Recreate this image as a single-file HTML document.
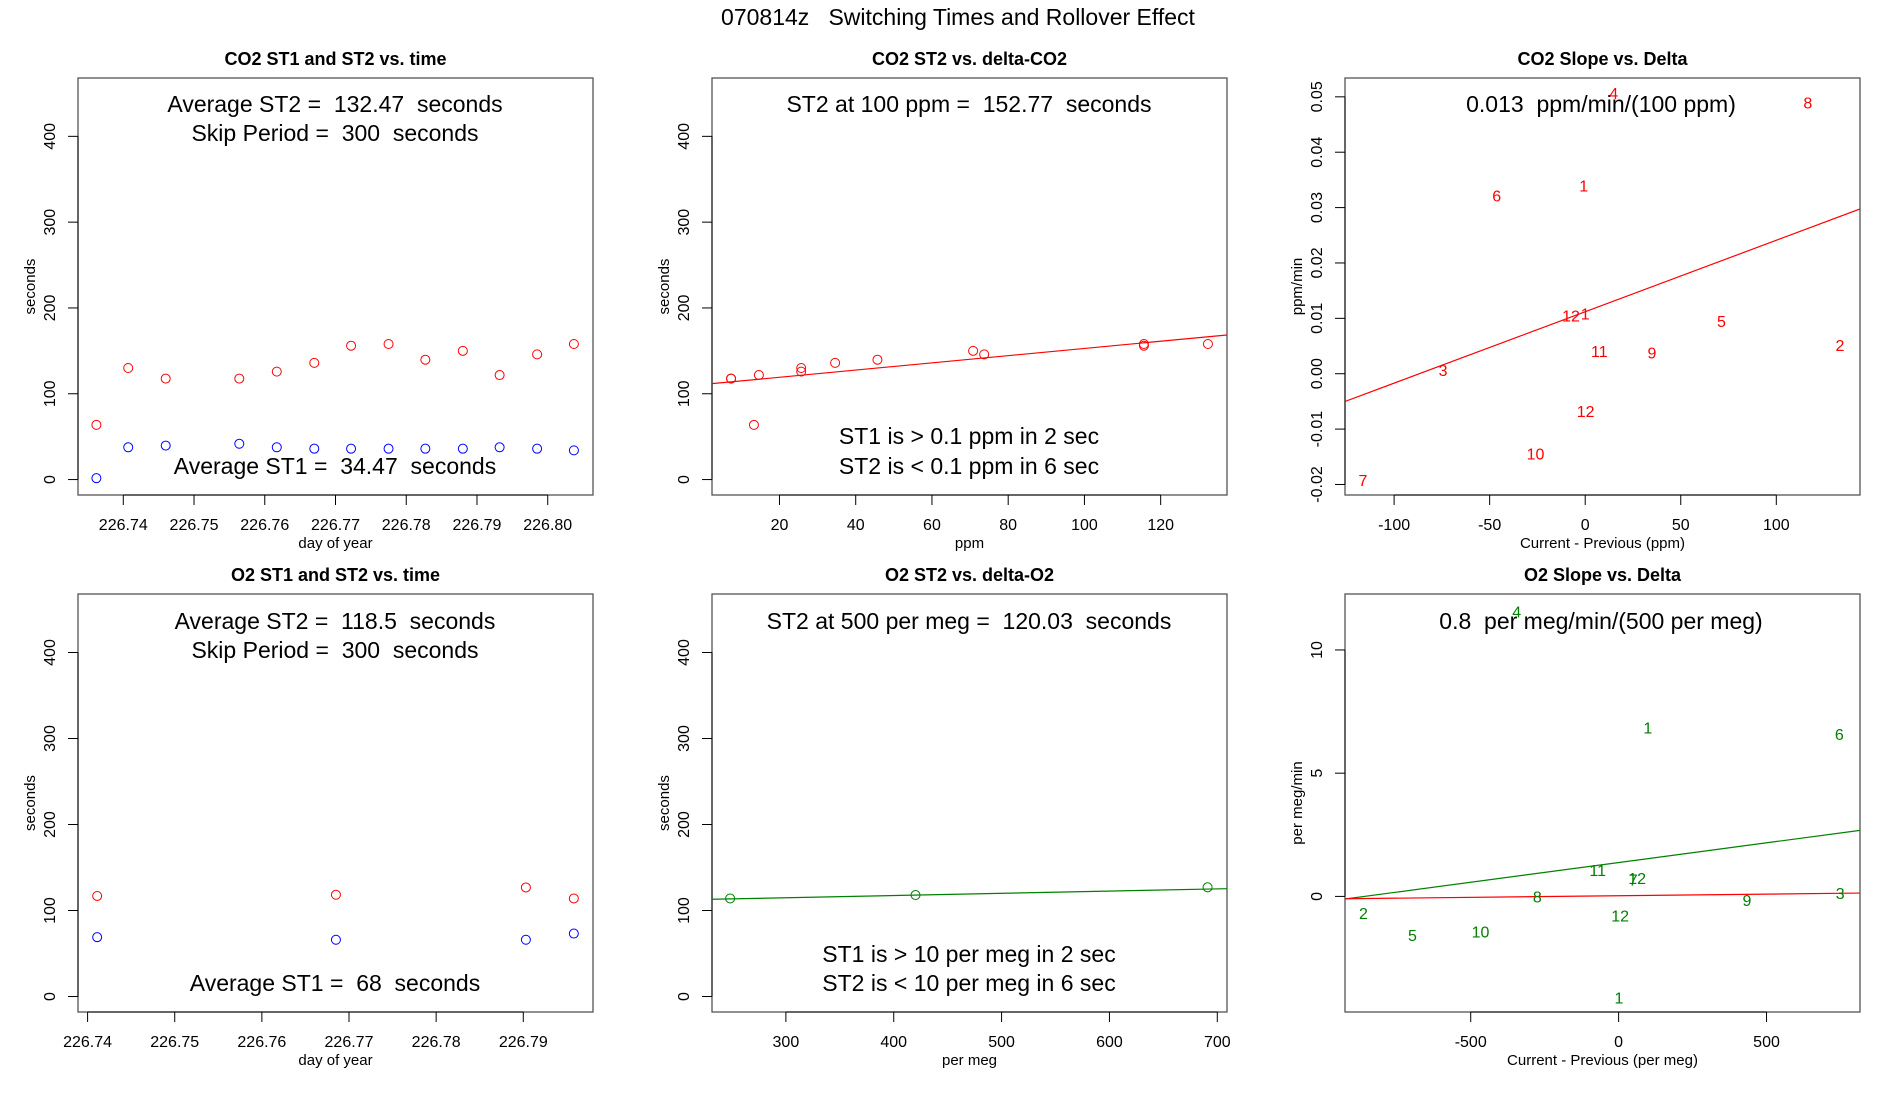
<!DOCTYPE html>
<html><head><meta charset="utf-8"><style>
body{margin:0;background:#fff;}
svg{display:block;font-family:"Liberation Sans",Arial,sans-serif;}
svg text{white-space:pre;}
</style></head><body>
<svg id="chart" width="1900" height="1100" viewBox="0 0 1900 1100" xmlns="http://www.w3.org/2000/svg" xml:space="preserve">
<text x="958" y="25" text-anchor="middle" font-size="23">070814z   Switching Times and Rollover Effect</text>
</svg>
<script>
// ---- data ----
const co2Days = [226.7362,226.7407,226.7460,226.7564,226.7617,226.7670,226.7722,226.7775,226.7827,226.7880,226.7932,226.7985,226.8037];
const co2ST2 = [63.7,130,117.7,117.7,125.8,136,156,158,139.7,150,121.8,145.9,158];
const co2ST1 = [1.6,37.6,39.6,41.7,37.6,36,36,36,36,36,37.6,36,34];
const co2Delta = [7.3,7.3,14.6,13.3,25.7,25.7,34.6,45.7,70.8,73.7,115.6,115.6,132.4];
const co2DeltaST2 = [117.7,117.7,121.8,63.7,130,125.8,136,139.7,150,145.9,158,156,158];
const co2FitLine = [110.8,0.42];
const co2SlopeLabels = ["1","2","3","4","5","6","7","8","9","10","11","12","12","1"];
const co2SlopeX = [-0.8,133.3,-74.4,14.9,71.3,-46.3,-116.3,116.5,34.9,-26,7.4,0.2,-7.4,0];
const co2SlopeY = [0.0340,0.0052,0.0007,0.0507,0.0095,0.0322,-0.0192,0.049,0.0038,-0.0144,0.0041,-0.0067,0.0105,0.0109];
const co2SlopeFit = [0.0112,0.000129];
const o2Days = [226.7411,226.7685,226.7903,226.7958];
const o2ST2 = [116.9,118.3,126.8,114];
const o2ST1 = [69,66,66,73.2];
const o2Delta = [248.3,420.2,691];
const o2DeltaST2 = [114,118,127];
const o2FitLine = [107.1,0.0258];
const o2SlopeLabels = ["1","2","3","4","5","6","7","8","9","10","11","12","12","1"];
const o2SlopeX = [98.8,-862.5,749,-344.5,-697,746,49.4,-275,434,-467,-70.8,62.7,5.3,1.3];
const o2SlopeY = [6.85,-0.68,0.14,11.57,-1.56,6.59,0.68,0.0,-0.14,-1.42,1.08,0.75,-0.78,-4.1];
const o2SlopeFitGreen = [1.374,0.0016];
const o2SlopeFitRed = [0.0275,0.000132];
const stTicks = [0,100,200,300,400];
const co2DayTicks = ["226.74","226.75","226.76","226.77","226.78","226.79","226.80"];
const o2DayTicks = ["226.74","226.75","226.76","226.77","226.78","226.79"];
const ppmTicks = [20,40,60,80,100,120];
const permegTicks = [300,400,500,600,700];
const co2SlopeXTicks = [-100,-50,0,50,100];
const co2SlopeYTicks = ["-0.02","-0.01","0.00","0.01","0.02","0.03","0.04","0.05"];
const o2SlopeXTicks = [-500,0,500];
const o2SlopeYTicks = [0,5,10];

const NS="http://www.w3.org/2000/svg";
const svg=document.getElementById('chart');
function mk(tag,attrs,parent,txt){const e=document.createElementNS(NS,tag);for(const k in attrs)e.setAttribute(k,attrs[k]);if(txt!==undefined)e.textContent=txt;(parent||svg).appendChild(e);return e;}

function panel(name,L,T,R,B,xlim,ylim,title,xlab,ylab,xticks,yticks){
  const g=mk('g',{});
  
  
  const sx=v=>L+(v-xlim[0])/(xlim[1]-xlim[0])*(R-L);
  const sy=v=>B-(v-ylim[0])/(ylim[1]-ylim[0])*(B-T);
  const box=mk('rect',{x:L,y:T,width:R-L,height:B-T,fill:'none',stroke:'#555','stroke-width':1.3},g);
  
  
  const t=mk('text',{x:(L+R)/2,y:T-13,'text-anchor':'middle','font-size':18,'font-weight':'bold'},g,title);
  
  
  const xa=mk('g',{},g);
  
  
  const xv=xticks.map(Number);
  mk('line',{x1:sx(xv[0]),x2:sx(xv[xv.length-1]),y1:B,y2:B,stroke:'#000'},xa);
  xticks.forEach(tk=>{const x=sx(Number(tk));mk('line',{x1:x,x2:x,y1:B,y2:B+10,stroke:'#000'},xa);
    const tl=mk('text',{x:x,y:B+35,'text-anchor':'middle','font-size':16},xa,String(tk));
    
    });
  const xl=mk('text',{x:(L+R)/2,y:B+53,'text-anchor':'middle','font-size':15},g,xlab);
  
  
  const ya=mk('g',{},g);
  
  
  const yv=yticks.map(Number);
  mk('line',{x1:L,x2:L,y1:sy(yv[0]),y2:sy(yv[yv.length-1]),stroke:'#000'},ya);
  yticks.forEach(tk=>{const y=sy(Number(tk));mk('line',{x1:L-10,x2:L,y1:y,y2:y,stroke:'#000'},ya);
    const tl=mk('text',{x:L-23,y:y,'text-anchor':'middle','font-size':16,transform:`rotate(-90 ${L-23} ${y})`},ya,String(tk));
    
    });
  const yl=mk('text',{x:L-43,y:(T+B)/2,'text-anchor':'middle','font-size':15,transform:`rotate(-90 ${L-43} ${(T+B)/2})`},g,ylab);
  
  
  const clip='c'+name;
  const cp=mk('clipPath',{id:clip},g);mk('rect',{x:L,y:T,width:R-L,height:B-T},cp);
  const plot=mk('g',{'clip-path':`url(#${clip})`},g);
  return {g,plot,sx,sy,L,R,T,B};
}
function circles(p,xs,ys,col,nm){xs.forEach((x,i)=>{const c=mk('circle',{cx:p.sx(x),cy:p.sy(ys[i]),r:4.5,fill:'none',stroke:col,'stroke-width':1},p.g);
  
  });}
function fit(p,coef,xlim,col,nm){const l=mk('line',{x1:p.sx(xlim[0]),y1:p.sy(coef[0]+coef[1]*xlim[0]),x2:p.sx(xlim[1]),y2:p.sy(coef[0]+coef[1]*xlim[1]),stroke:col,'stroke-width':1.2},p.plot);
  
  }
function note(p,x,y,txt,nm){const t=mk('text',{x:x,y:y,'text-anchor':'middle','font-size':23},p.g,txt);
  
  }
function labels(p,labs,xs,ys,col,nm){labs.forEach((s,i)=>{const t=mk('text',{x:p.sx(xs[i]),y:p.sy(ys[i])+6,'text-anchor':'middle','font-size':16,fill:col},p.g,s);
  
  });}

const C1=[78,593],C2=[712,1227],C3=[1345,1860],R1=[78,495],R2=[594,1012];
const stY=[-18,468];
let x1=[226.7336,226.8064];
let p=panel('co2-time-panel',C1[0],R1[0],C1[1],R1[1],x1,stY,'CO2 ST1 and ST2 vs. time','day of year','seconds',co2DayTicks,stTicks);
circles(p,co2Days,co2ST2,'#ff0000','st2-point');circles(p,co2Days,co2ST1,'#0000ff','st1-point');
note(p,335,112,'Average ST2 =  132.47  seconds','avg-st2-text');note(p,335,141,'Skip Period =  300  seconds','skip-period-text');note(p,335,474,'Average ST1 =  34.47  seconds','avg-st1-text');
let x2=[2.3,137.4];
p=panel('co2-delta-panel',C2[0],R1[0],C2[1],R1[1],x2,stY,'CO2 ST2 vs. delta-CO2','ppm','seconds',ppmTicks,stTicks);
fit(p,co2FitLine,x2,'#ff0000','fit-line');circles(p,co2Delta,co2DeltaST2,'#ff0000','st2-point');
note(p,969,112,'ST2 at 100 ppm =  152.77  seconds','st2-at-100-text');note(p,969,444,'ST1 is > 0.1 ppm in 2 sec','st1-threshold-text');note(p,969,474,'ST2 is < 0.1 ppm in 6 sec','st2-threshold-text');
let x3=[-125.7,143.8];
p=panel('co2-slope-panel',C3[0],R1[0],C3[1],R1[1],x3,[-0.0219,0.0534],'CO2 Slope vs. Delta','Current - Previous (ppm)','ppm/min',co2SlopeXTicks,co2SlopeYTicks);
fit(p,co2SlopeFit,x3,'#ff0000','fit-line');
note(p,1601,112,'0.013  ppm/min/(100 ppm)','slope-text');
labels(p,co2SlopeLabels,co2SlopeX,co2SlopeY,'#ff0000','slope-label');
let x4=[226.7389,226.7980];
p=panel('o2-time-panel',C1[0],R2[0],C1[1],R2[1],x4,stY,'O2 ST1 and ST2 vs. time','day of year','seconds',o2DayTicks,stTicks);
circles(p,o2Days,o2ST2,'#ff0000','st2-point');circles(p,o2Days,o2ST1,'#0000ff','st1-point');
note(p,335,629,'Average ST2 =  118.5  seconds','avg-st2-text');note(p,335,658,'Skip Period =  300  seconds','skip-period-text');note(p,335,991,'Average ST1 =  68  seconds','avg-st1-text');
let x5=[231.5,709];
p=panel('o2-delta-panel',C2[0],R2[0],C2[1],R2[1],x5,stY,'O2 ST2 vs. delta-O2','per meg','seconds',permegTicks,stTicks);
fit(p,o2FitLine,x5,'#008000','fit-line');circles(p,o2Delta,o2DeltaST2,'#008000','st2-point');
note(p,969,629,'ST2 at 500 per meg =  120.03  seconds','st2-at-500-text');note(p,969,962,'ST1 is > 10 per meg in 2 sec','st1-threshold-text');note(p,969,991,'ST2 is < 10 per meg in 6 sec','st2-threshold-text');
let x6=[-925,816];
p=panel('o2-slope-panel',C3[0],R2[0],C3[1],R2[1],x6,[-4.69,12.27],'O2 Slope vs. Delta','Current - Previous (per meg)','per meg/min',o2SlopeXTicks,o2SlopeYTicks);
fit(p,o2SlopeFitGreen,x6,'#008000','fit-line-green');fit(p,o2SlopeFitRed,x6,'#ff0000','fit-line-red');
note(p,1601,629,'0.8  per meg/min/(500 per meg)','slope-text');
labels(p,o2SlopeLabels,o2SlopeX,o2SlopeY,'#008000','slope-label');
</script>
</body></html>
